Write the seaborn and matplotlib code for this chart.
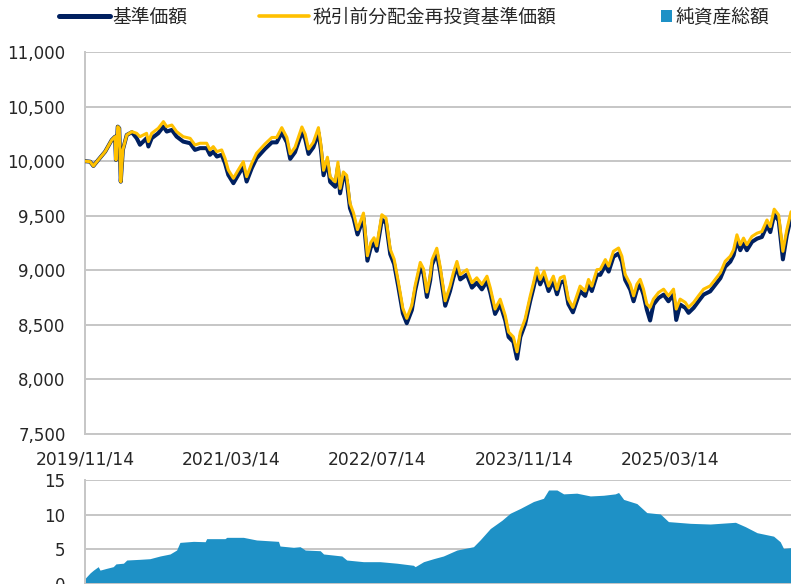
import pandas as pd
import numpy as np
import matplotlib
matplotlib.use("Agg")
import matplotlib.pyplot as plt
from matplotlib.lines import Line2D
from matplotlib.patches import Patch
import seaborn as sns

# ---- data ----
nav_dates = [
    "2019-11-14", "2019-12-01", "2019-12-12", "2019-12-28", "2020-01-20", "2020-02-11",
    "2020-02-22", "2020-02-25", "2020-03-02", "2020-03-07", "2020-03-12", "2020-03-19",
    "2020-04-01", "2020-04-18", "2020-05-04", "2020-05-15", "2020-06-06", "2020-06-12",
    "2020-06-23", "2020-07-15", "2020-08-01", "2020-08-12", "2020-08-29", "2020-09-14",
    "2020-10-06", "2020-10-29", "2020-11-14", "2020-12-01", "2020-12-23", "2021-01-03",
    "2021-01-14", "2021-01-26", "2021-02-11", "2021-02-22", "2021-03-05", "2021-03-22",
    "2021-04-07", "2021-04-24", "2021-05-05", "2021-05-22", "2021-06-07", "2021-07-05",
    "2021-07-28", "2021-08-13", "2021-08-30", "2021-09-16", "2021-09-27", "2021-10-13",
    "2021-11-05", "2021-11-16", "2021-11-27", "2021-12-13", "2021-12-30", "2022-01-07",
    "2022-01-16", "2022-01-29", "2022-02-07", "2022-02-24", "2022-03-05", "2022-03-12",
    "2022-03-23", "2022-04-03", "2022-04-14", "2022-04-26", "2022-05-09", "2022-05-29",
    "2022-06-11", "2022-06-22", "2022-07-03", "2022-07-12", "2022-07-29", "2022-08-12",
    "2022-08-26", "2022-09-08", "2022-09-22", "2022-10-07", "2022-10-20", "2022-11-06",
    "2022-11-17", "2022-12-04", "2022-12-15", "2022-12-26", "2023-01-06", "2023-01-12",
    "2023-01-28", "2023-02-08", "2023-02-25", "2023-03-13", "2023-03-24", "2023-04-05",
    "2023-04-16", "2023-05-08", "2023-05-25", "2023-06-10", "2023-06-27", "2023-07-14",
    "2023-07-25", "2023-08-10", "2023-08-27", "2023-09-13", "2023-09-24", "2023-10-10",
    "2023-10-22", "2023-11-02", "2023-11-18", "2023-12-05", "2023-12-16", "2023-12-27",
    "2024-01-07", "2024-01-20", "2024-02-04", "2024-02-20", "2024-03-03", "2024-03-14",
    "2024-03-27", "2024-04-10", "2024-04-25", "2024-05-08", "2024-05-19", "2024-06-05",
    "2024-06-16", "2024-06-27", "2024-07-14", "2024-07-25", "2024-08-11", "2024-08-22",
    "2024-09-07", "2024-09-24", "2024-10-05", "2024-10-16", "2024-11-02", "2024-11-13",
    "2024-11-24", "2024-12-05", "2024-12-16", "2024-12-27", "2025-01-07", "2025-01-18",
    "2025-02-04", "2025-02-21", "2025-03-09", "2025-03-26", "2025-04-04", "2025-04-17",
    "2025-05-04", "2025-05-15", "2025-06-01", "2025-06-17", "2025-07-04", "2025-07-26",
    "2025-08-12", "2025-08-29", "2025-09-14", "2025-10-01", "2025-10-12", "2025-10-23",
    "2025-11-03", "2025-11-14", "2025-11-25", "2025-12-12", "2025-12-29", "2026-01-14",
    "2026-01-31", "2026-02-11", "2026-02-24", "2026-03-11", "2026-03-25", "2026-04-07",
    "2026-04-21",
]

# 税引前分配金再投資基準価額
nav_reinvested = [
    10000, 9995, 9956, 10011, 10087, 10194, 10224, 10011, 10316, 10301, 9812, 10103,
    10240, 10270, 10255, 10224, 10255, 10179, 10255, 10301, 10362, 10316, 10331, 10270,
    10224, 10209, 10148, 10164, 10164, 10103, 10133, 10087, 10103, 10026, 9919, 9843,
    9919, 9995, 9858, 9980, 10072, 10157, 10217, 10217, 10307, 10217, 10066, 10127,
    10313, 10247, 10111, 10172, 10307, 10157, 9916, 10036, 9855, 9810, 9991, 9750,
    9901, 9870, 9614, 9524, 9373, 9524, 9133, 9253, 9298, 9223, 9509, 9479,
    9193, 9102, 8892, 8651, 8560, 8681, 8861, 9072, 9012, 8801, 8952, 9096,
    9202, 9036, 8720, 8855, 8976, 9081, 8961, 9006, 8886, 8931, 8870, 8946,
    8840, 8645, 8735, 8584, 8434, 8389, 8253, 8434, 8554, 8765, 8886, 9021,
    8916, 8991, 8855, 8946, 8825, 8931, 8946, 8735, 8660, 8765, 8855, 8810,
    8916, 8855, 9006, 9008, 9098, 9038, 9174, 9204, 9129, 8962, 8872, 8766,
    8872, 8917, 8827, 8691, 8660, 8736, 8796, 8827, 8766, 8827, 8645, 8736,
    8706, 8660, 8706, 8766, 8827, 8857, 8917, 8978, 9083, 9129, 9189, 9325,
    9234, 9295, 9234, 9310, 9340, 9355, 9461, 9400, 9560, 9506, 9174, 9370,
    9536,
]

# 基準価額
nav = [
    10000, 9995, 9956, 10011, 10087, 10194, 10224, 10011, 10316, 10301, 9812, 10103,
    10240, 10265, 10210, 10150, 10210, 10134, 10210, 10256, 10317, 10271, 10286, 10225,
    10179, 10164, 10103, 10119, 10119, 10058, 10088, 10042, 10058, 9981, 9874, 9798,
    9874, 9950, 9813, 9935, 10027, 10112, 10172, 10172, 10262, 10172, 10021, 10082,
    10268, 10202, 10066, 10127, 10262, 10112, 9871, 9991, 9810, 9765, 9946, 9705,
    9856, 9825, 9569, 9479, 9328, 9479, 9088, 9208, 9253, 9178, 9464, 9434,
    9148, 9057, 8847, 8606, 8515, 8636, 8816, 9027, 8967, 8756, 8907, 9051,
    9157, 8991, 8675, 8810, 8931, 9036, 8916, 8961, 8841, 8886, 8825, 8901,
    8795, 8600, 8690, 8539, 8389, 8344, 8190, 8389, 8509, 8720, 8841, 8976,
    8871, 8946, 8810, 8901, 8780, 8886, 8901, 8690, 8615, 8720, 8810, 8765,
    8871, 8810, 8961, 8958, 9048, 8988, 9124, 9154, 9079, 8912, 8822, 8716,
    8822, 8867, 8777, 8641, 8540, 8686, 8746, 8777, 8716, 8777, 8545, 8686,
    8656, 8610, 8656, 8716, 8777, 8807, 8867, 8928, 9033, 9079, 9139, 9275,
    9184, 9245, 9184, 9260, 9290, 9305, 9411, 9350, 9510, 9456, 9100, 9320,
    9486,
]

# 純資産総額
aum_dates = [
    "2019-11-14", "2019-12-01", "2019-12-12", "2019-12-28", "2020-01-03", "2020-01-25",
    "2020-02-16", "2020-02-25", "2020-03-21", "2020-04-01", "2020-05-15", "2020-06-17",
    "2020-07-21", "2020-08-23", "2020-09-14", "2020-09-25", "2020-11-09", "2020-12-18",
    "2020-12-23", "2021-02-22", "2021-02-28", "2021-04-24", "2021-06-07", "2021-08-19",
    "2021-08-24", "2021-10-08", "2021-10-30", "2021-11-16", "2022-01-05", "2022-01-16",
    "2022-03-18", "2022-04-03", "2022-05-29", "2022-07-23", "2022-09-17", "2022-11-11",
    "2022-11-17", "2022-12-15", "2023-01-17", "2023-02-19", "2023-04-05", "2023-05-30",
    "2023-06-21", "2023-07-25", "2023-09-02", "2023-09-29", "2023-11-02", "2023-12-16",
    "2024-01-18", "2024-02-04", "2024-03-03", "2024-03-25", "2024-05-08", "2024-06-22",
    "2024-08-05", "2024-09-13", "2024-09-24", "2024-10-11", "2024-11-24", "2024-12-27",
    "2025-02-10", "2025-03-09", "2025-05-21", "2025-07-26", "2025-10-18", "2025-11-20",
    "2025-12-29", "2026-02-22", "2026-03-16", "2026-03-27", "2026-04-21",
]
aum = [
    0.8, 1.6, 2.0, 2.5, 2.0, 2.26,
    2.5, 2.9, 3.0, 3.46, 3.56, 3.65,
    4.04, 4.33, 4.9, 6.0, 6.15, 6.1,
    6.54, 6.54, 6.73, 6.73, 6.35, 6.15,
    5.48, 5.29, 5.38, 4.9, 4.8, 4.33,
    4.04, 3.46, 3.22, 3.22, 3.0, 2.7,
    2.5, 3.22, 3.65, 4.04, 4.9, 5.38,
    6.35, 8.0, 9.2, 10.2, 10.9, 11.9,
    12.36, 13.56, 13.56, 13.0, 13.1, 12.7,
    12.8, 13.0, 13.2, 12.2, 11.6, 10.3,
    10.1, 9.0, 8.75, 8.65, 8.9, 8.27,
    7.4, 6.9, 6.1, 5.14, 5.24,
]

tick_dates = ["2019-11-14", "2021-03-14", "2022-07-14", "2023-11-14", "2025-03-14"]
nav_ticks = [7500, 8000, 8500, 9000, 9500, 10000, 10500, 11000]
aum_ticks = [0, 5, 10, 15]

label_nav = "基準価額"
label_reinv = "税引前分配金再投資基準価額"
label_aum = "純資産総額"

NAVY = "#002060"
GOLD = "#ffc000"
BLUE = "#1e91c6"
GRID = "#c6c6c6"

sns.set_style("white")
plt.rcParams["font.family"] = ["DejaVu Sans", "Noto Sans CJK JP"]

df_nav = pd.DataFrame({
    "date": pd.to_datetime(nav_dates),
    "nav": nav,
    "reinv": nav_reinvested,
})
df_aum = pd.DataFrame({"date": pd.to_datetime(aum_dates), "aum": aum})

W, H = 791, 584
fig = plt.figure(figsize=(W / 100, H / 100), dpi=100)
ax1 = fig.add_axes([85 / W, 1 - 434 / H, (W - 85) / W, (434 - 52) / H])
ax2 = fig.add_axes([85 / W, 0.0, (W - 85) / W, (584 - 480) / H])

x_min = pd.Timestamp("2019-11-14")
x_max = pd.Timestamp("2026-04-21")

# ---- top panel: NAV lines ----
sns.lineplot(data=df_nav, x="date", y="nav", ax=ax1, color=NAVY, lw=2.9, zorder=3)
sns.lineplot(data=df_nav, x="date", y="reinv", ax=ax1, color=GOLD, lw=2.2, zorder=4)
ax1.set_xlim(x_min, x_max)
ax1.set_ylim(7500, 11000)
ax1.set_yticks(nav_ticks)
ax1.set_yticklabels([f"{t:,}" for t in nav_ticks])
ticks = pd.to_datetime(tick_dates)
ax1.set_xticks(ticks)
ax1.set_xticklabels([t.strftime("%Y/%m/%d") for t in ticks])
ax1.set_xlabel("")
ax1.set_ylabel("")
ax1.grid(axis="y", color=GRID, lw=1.4, zorder=0)
ax1.tick_params(axis="x", direction="in", length=5, width=1.4, color=GRID,
                pad=12, labelsize=12.3)
ax1.tick_params(axis="y", length=0, pad=14, labelsize=12)

# ---- bottom panel: net assets ----
ax2.fill_between(df_aum["date"], 0, df_aum["aum"], color=BLUE, lw=0, zorder=2)
ax2.set_xlim(x_min, x_max)
ax2.set_ylim(0, 15)
ax2.set_yticks(aum_ticks)
ax2.set_xticks([])
ax2.grid(axis="y", color=GRID, lw=1.4, zorder=0)
ax2.tick_params(axis="y", length=0, pad=14, labelsize=12)

for ax in (ax1, ax2):
    for side in ("top", "right"):
        ax.spines[side].set_visible(False)
    for side in ("left", "bottom"):
        ax.spines[side].set_color(GRID)
        ax.spines[side].set_linewidth(1.4)
    ax.set_axisbelow(True)

# ---- legends ----
h_lines = [Line2D([], [], color=NAVY, lw=3.6), Line2D([], [], color=GOLD, lw=2.6)]
fig.legend(h_lines, [label_nav, label_reinv], loc="center left",
           bbox_to_anchor=(59 / W, 1 - 17 / H), ncol=2, frameon=False,
           fontsize=13.5, handlelength=2.7, handletextpad=0.15,
           columnspacing=3.8, borderpad=0, borderaxespad=0)
fig.legend([Patch(facecolor=BLUE, edgecolor="none")], [label_aum], loc="center left",
           bbox_to_anchor=(661 / W, 1 - 17 / H), frameon=False,
           fontsize=13.5, handlelength=0.6, handleheight=0.6,
           handletextpad=0.2, borderpad=0, borderaxespad=0)

fig.savefig("out.png", dpi=100)
